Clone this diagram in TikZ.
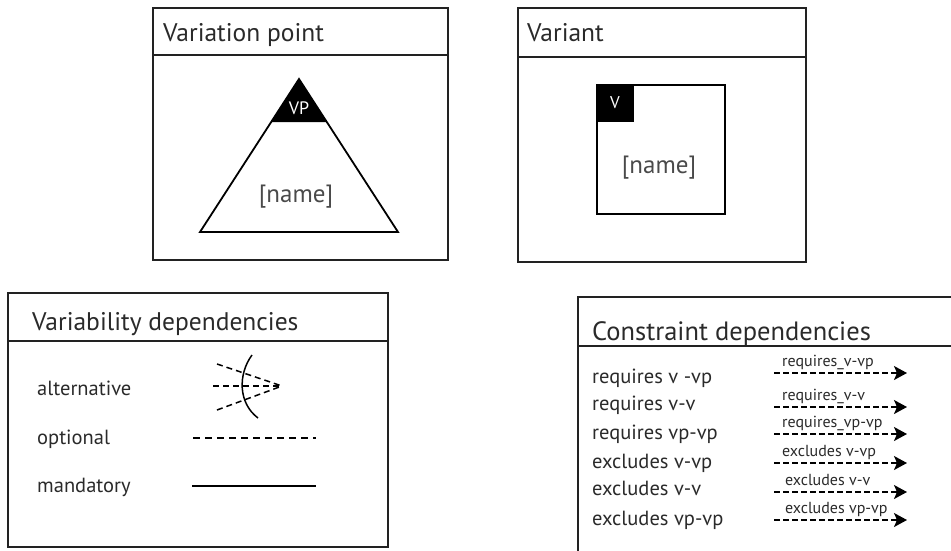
\documentclass[tikz,border=0pt]{standalone}
\usepackage{fontspec}
\setmainfont{PT Sans}
\usetikzlibrary{arrows.meta}
\definecolor{frame}{HTML}{222222}
\definecolor{txt}{HTML}{2A2A2A}
\tikzset{
  panel/.style={draw=frame, line width=1.8pt},
  ttl/.style={anchor=base west, font=\fontsize{25.5}{28}\selectfont, text=txt, inner sep=0pt},
  body/.style={anchor=base west, font=\fontsize{20.5}{23}\selectfont, text=txt, inner sep=0pt},
  row/.style={anchor=base west, font=\fontsize{20.5}{23}\selectfont, text=txt, inner sep=0pt},
  lbl/.style={anchor=base west, font=\fontsize{16}{18}\selectfont, text=txt, inner sep=0pt},
  nm/.style={font=\fontsize{25}{28}\selectfont, text=txt!85, inner sep=0pt},
  dep/.style={line width=1.5pt, draw=black, dash pattern=on 7pt off 5pt},
  cons/.style={line width=1.5pt, draw=black, dash pattern=on 6pt off 3pt, -{Stealth[length=13pt,width=14pt,inset=3pt]}},
}
\begin{document}
\begin{tikzpicture}[x=1pt,y=-1pt]
\useasboundingbox (0,0) rectangle (951,550);
% Variation point panel
\draw[panel] (153,8) rectangle (448,260);
\draw[panel] (153,55) -- (448,55);
\node[ttl] (vpt) at (163,41) {Variation point};
\coordinate (apex) at (299,79);
\coordinate (bl) at (200,232);
\coordinate (br) at (398,232);
\fill[black] (apex) -- (271,122) -- (327,122) -- cycle;
\draw[line width=1.8pt, line join=miter] (apex) -- (bl) -- (br) -- cycle;
\node[font=\fontsize{18}{20}\selectfont, text=white, inner sep=0pt] (vplbl) at (299,108) {VP};
\node[nm] (vpname) at (296,197) {[name]};
% Variant panel
\draw[panel] (518,8) rectangle (806,262);
\draw[panel] (518,57) -- (806,57);
\node[ttl] (vt) at (527,41) {Variant};
\fill[black] (597,85) rectangle (634,122);
\draw[line width=1.8pt] (597,85) rectangle (725,214);
\node[font=\fontsize{17}{19}\selectfont, text=white, inner sep=0pt] (vlbl) at (615,103) {V};
\node[nm] (vname) at (659,168) {[name]};
% Variability dependencies
\draw[panel] (8,293) rectangle (388,547);
\draw[panel] (8,341) -- (388,341);
\node[ttl] (vdt) at (32,330) {Variability dependencies};
\node[body] (alt) at (37,395) {alternative};
\node[body] (opt) at (37,444) {optional};
\node[body] (man) at (37,492) {mandatory};
\coordinate (conv) at (282,386);
\coordinate (a1) at (217,364);
\coordinate (a2) at (213,386);
\coordinate (a3) at (217,410);
\draw[dep, dash pattern=on 6pt off 4pt] (a1) -- (conv);
\draw[dep, dash pattern=on 6pt off 4pt] (a2) -- (conv);
\draw[dep, dash pattern=on 6pt off 4pt] (a3) -- (conv);
\draw[line width=1.5pt] (252,355) .. controls (238,374) and (238,403) .. (258,418);
\coordinate (o1) at (193,438);
\coordinate (o2) at (316,438);
\draw[dep] (o1) -- (o2);
\coordinate (m1) at (192,486);
\coordinate (m2) at (316,486);
\draw[line width=1.5pt] (m1) -- (m2);
% Constraint dependencies
\draw[panel] (952,297) -- (578,297) -- (578,551);
\draw[panel] (578,346) -- (952,346);
\node[ttl, font=\fontsize{26.5}{29}\selectfont] (cdt) at (592,340) {Constraint dependencies};
\foreach \t/\l/\yb/\ya/\lx [count=\i] in {
  requires v -vp/requires\_v-vp/383/373/782,
  requires v-v/requires\_v-v/410/407/782,
  requires vp-vp/requires\_vp-vp/439/434/782,
  excludes v-vp/excludes v-vp/468/463/782,
  excludes v-v/excludes v-v/495/492/785,
  excludes vp-vp/excludes vp-vp/525/520/785}{
  \node[row] (r\i) at (592,\yb) {\t};
  \coordinate (s\i) at (774,\ya);
  \coordinate (e\i) at (907,\ya);
  \draw[cons] (s\i) -- (e\i);
  \node[lbl] (l\i) at (\lx,\ya-7) {\l};
}
\end{tikzpicture}
\end{document}
